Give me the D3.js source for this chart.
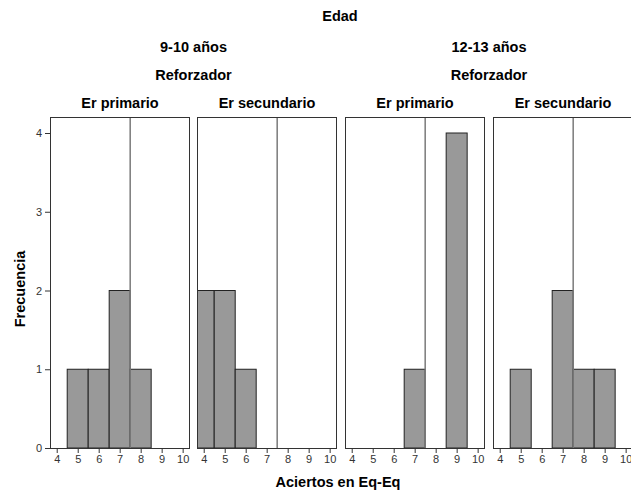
<!DOCTYPE html>
<html>
<head>
<meta charset="utf-8">
<script src="https://cdn.jsdelivr.net/npm/d3@7"></script>
<style>
  body { margin: 0; background: #fff; }
  text { font-family: "Liberation Sans", Arial, sans-serif; }
</style>
</head>
<body>
<div id="chart"></div>
<script>
// data
var ages = ["9-10 años", "12-13 años"];
var reinforcers = ["Er primario", "Er secundario"];
var scores = [4, 5, 6, 7, 8, 9, 10];
var freqTicks = [0, 1, 2, 3, 4];
// frequency per score (4..10) for each panel
var countsAge1Primary = [0, 1, 1, 2, 1, 0, 0];
var countsAge1Secondary = [2, 2, 1, 0, 0, 0, 0];
var countsAge2Primary = [0, 0, 0, 1, 0, 4, 0];
var countsAge2Secondary = [0, 1, 0, 2, 1, 1, 0];
var refLine = [7.5, 7.5, 7.5, 7.5];

var panels = [
  { age: 0, label: reinforcers[0], counts: countsAge1Primary, ref: refLine[0] },
  { age: 0, label: reinforcers[1], counts: countsAge1Secondary, ref: refLine[1] },
  { age: 1, label: reinforcers[0], counts: countsAge2Primary, ref: refLine[2] },
  { age: 1, label: reinforcers[1], counts: countsAge2Secondary, ref: refLine[3] }
];

var W = 631, H = 493;
var panelLeft = [50, 197, 345, 493];
var panelW = 140;
var plotTop = 117, plotBottom = 448;

var svg = d3.select("#chart").append("svg")
  .attr("width", W)
  .attr("height", H);

svg.append("defs").append("clipPath").attr("id", "panelClip")
  .append("rect")
  .attr("x", 0.5).attr("y", plotTop)
  .attr("width", panelW - 1).attr("height", plotBottom - plotTop + 1);

var x = d3.scaleLinear().domain([3.68, 10.35]).range([0, panelW]);
var y = d3.scaleLinear().domain([0, 4]).range([plotBottom, 133]);

// titles
svg.append("text").attr("x", 340).attr("y", 20.5)
  .attr("text-anchor", "middle").attr("font-weight", "bold").attr("font-size", "14.5px")
  .text("Edad");

ages.forEach(function (a, i) {
  var cx = (panelLeft[i * 2] + panelLeft[i * 2 + 1] + panelW) / 2;
  svg.append("text").attr("x", cx).attr("y", 51.5)
    .attr("text-anchor", "middle").attr("font-weight", "bold").attr("font-size", "14.5px")
    .text(a);
  svg.append("text").attr("x", cx).attr("y", 80)
    .attr("text-anchor", "middle").attr("font-weight", "bold").attr("font-size", "14.5px")
    .text("Reforzador");
});

panels.forEach(function (p, i) {
  var g = svg.append("g")
    .attr("transform", "translate(" + panelLeft[i] + ",0)");

  g.append("text").attr("x", panelW / 2).attr("y", 107.5)
    .attr("text-anchor", "middle").attr("font-weight", "bold").attr("font-size", "14.5px")
    .text(p.label);

  // frame background
  g.append("rect")
    .attr("x", 0.5).attr("y", plotTop + 0.5)
    .attr("width", panelW - 1).attr("height", plotBottom - plotTop)
    .attr("fill", "#fff");

  // bars, clipped to the panel
  g.append("g").attr("clip-path", "url(#panelClip)")
    .selectAll("rect.bar")
    .data(scores.map(function (s, k) { return { s: s, c: p.counts[k] }; })
      .filter(function (d) { return d.c > 0; }))
    .enter()
    .append("rect")
    .attr("class", "bar")
    .attr("x", function (d) { return x(d.s - 0.5); })
    .attr("y", function (d) { return y(d.c); })
    .attr("width", function (d) { return x(d.s + 0.5) - x(d.s - 0.5); })
    .attr("height", function (d) { return y(0) - y(d.c); })
    .attr("fill", "#999999")
    .attr("stroke", "#222")
    .attr("stroke-width", 1);

  // reference line
  g.append("line")
    .attr("x1", x(p.ref)).attr("x2", x(p.ref))
    .attr("y1", plotTop).attr("y2", plotBottom)
    .attr("stroke", "#7a7a7a")
    .attr("stroke-width", 1.5);

  // frame border
  g.append("rect")
    .attr("x", 0.5).attr("y", plotTop + 0.5)
    .attr("width", panelW - 1).attr("height", plotBottom - plotTop)
    .attr("fill", "none")
    .attr("stroke", "#333")
    .attr("stroke-width", 1);

  // x axis
  var xAxis = g.append("g")
    .attr("transform", "translate(0," + plotBottom + ")")
    .call(d3.axisBottom(x).tickValues(scores).tickFormat(d3.format("d")).tickSize(5).tickPadding(2));
  xAxis.select(".domain").remove();
  xAxis.selectAll("line").attr("stroke", "#333");
  xAxis.selectAll("text").attr("font-size", "11px").attr("fill", "#333")
    .style("font-family", "'Liberation Sans', Arial, sans-serif");
});

// y axis
var yAxis = svg.append("g")
  .attr("transform", "translate(" + panelLeft[0] + ",0)")
  .call(d3.axisLeft(y).tickValues(freqTicks).tickFormat(d3.format("d")).tickSize(5).tickPadding(3));
yAxis.select(".domain").remove();
yAxis.selectAll("line").attr("stroke", "#333");
yAxis.selectAll("text").attr("font-size", "11px").attr("fill", "#333")
  .style("font-family", "'Liberation Sans', Arial, sans-serif");

svg.append("text")
  .attr("transform", "translate(25,289) rotate(-90)")
  .attr("text-anchor", "middle").attr("font-weight", "bold").attr("font-size", "14.5px")
  .text("Frecuencia");

svg.append("text").attr("x", 338).attr("y", 487)
  .attr("text-anchor", "middle").attr("font-weight", "bold").attr("font-size", "14.5px")
  .text("Aciertos en Eq-Eq");
</script>
</body>
</html>
